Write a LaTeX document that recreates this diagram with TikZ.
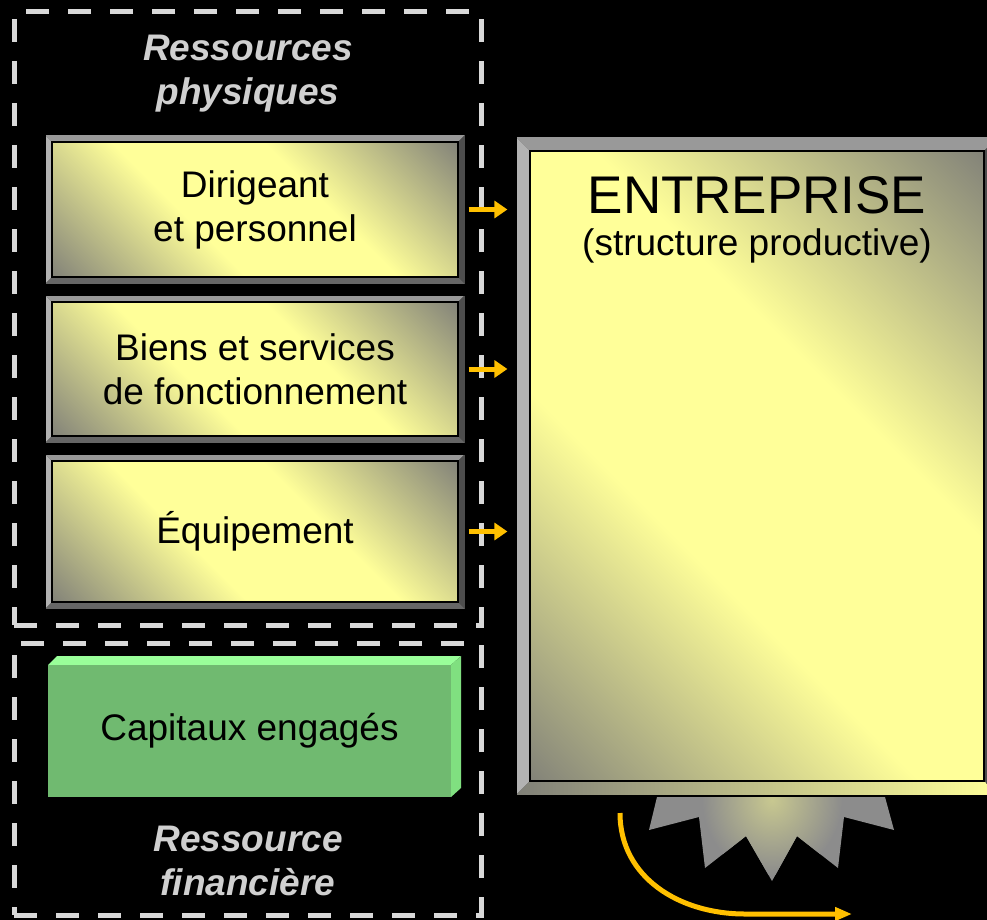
\documentclass[tikz,border=0pt]{standalone}
\usepackage{fontspec}
\setmainfont{Liberation Sans}
\usetikzlibrary{arrows.meta,calc}
\definecolor{yl}{HTML}{FFFF99}
\definecolor{gr}{HTML}{808078}
\definecolor{dashgray}{HTML}{D9D9D9}
\definecolor{lblc}{HTML}{D0D0D0}
\definecolor{gold}{HTML}{FFC000}
\definecolor{bvtopc}{HTML}{999999}
\definecolor{bvleftc}{HTML}{B2B2B2}
\definecolor{bvrightc}{HTML}{4D4D4D}
\definecolor{bvbotc}{HTML}{666666}
\definecolor{gfront}{HTML}{70BA70}
\definecolor{gtop}{HTML}{99FF99}
\definecolor{gside}{HTML}{80E080}
\definecolor{stargray}{HTML}{8C8C8C}
\definecolor{staryel}{HTML}{C8C890}
\pgfdeclarehorizontalshading{yb}{100bp}{color(0bp)=(gr); color(14bp)=(gr); color(40bp)=(yl); color(60bp)=(yl); color(86bp)=(gr); color(100bp)=(gr)}
\tikzset{
  face/.style={draw=black, line width=1.2pt, shading=yb, shading angle=45, inner sep=0pt,
    font=\fontsize{37}{44}\selectfont, align=center},
  framebox/.style={draw=dashgray, line width=5pt, dash pattern=on 23pt off 19pt, inner sep=0pt},
  arr/.style={draw=gold, line width=5pt, -{Triangle[length=13pt,width=17pt]}},
  lbl/.style={text=lblc, font=\fontsize{37}{44}\selectfont\bfseries\itshape, align=center},
  capbox/.style={fill=gfront, inner sep=0pt, font=\fontsize{37}{44}\selectfont},
}
\newcommand\bevelbox[8]{%
  \fill[bvtopc] (#2,#3) -- (#4,#3) -- ({#4-#6},{#3+#6}) -- ({#2+#6},{#3+#6}) -- cycle;
  \fill[bvleftc] (#2,#3) -- ({#2+#6},{#3+#6}) -- ({#2+#6},{#5-#6}) -- (#2,#5) -- cycle;
  \fill[bvrightc] (#4,#3) -- (#4,#5) -- ({#4-#6},{#5-#6}) -- ({#4-#6},{#3+#6}) -- cycle;
  \path[#7] (#2,#5) -- (#4,#5) -- ({#4-#6},{#5-#6}) -- ({#2+#6},{#5-#6}) -- cycle;
  \draw[black, line width=1pt] (#2,#3) rectangle (#4,#5);
  \node[face, minimum width={#4-#2-2*#6}, minimum height={#5-#3-2*#6}] (#1) at ({(#2+#4)/2},{(#3+#5)/2}) {#8};
}
\begin{document}
\begin{tikzpicture}[x=1pt, y=-1pt]
\useasboundingbox (0,0) rectangle (987,920);
\clip (0,0) rectangle (987,920);
\fill[black] (0,0) rectangle (987,920);

% dashed frames
\node[framebox, minimum width=467, minimum height=613] (phys) at (247.5,318.5) {};
\node[framebox, minimum width=467, minimum height=272] (fin) at (247.5,779) {};

% labels
\node[lbl] (lphys) at (248,74) {Ressources\\physiques};
\node[lbl] (lfin) at (248,861) {Ressource\\financière};

% resource boxes
\bevelbox{b1}{45}{135}{465}{284}{7}{fill=bvbotc}{Dirigeant\\et personnel}
\bevelbox{b2}{45}{295}{465}{443}{7}{fill=bvbotc}{Biens et services\\de fonctionnement}
\bevelbox{b3}{45}{454}{465}{609}{7}{fill=bvbotc}{Équipement}

% green box
\fill[gtop] (48,665) -- (57,656) -- (461,656) -- (451,665) -- cycle;
\fill[gside] (451,665) -- (461,656) -- (461,788) -- (451,797) -- cycle;
\node[capbox, minimum width=403, minimum height=132] (cap) at (249.5,731) {Capitaux engagés};

% starburst
\fill[stargray] (657,797) -- (649,830) -- (699,817) -- (705,868) -- (746,836) -- (772,881)
  -- (797,836) -- (838,868) -- (844,817) -- (894,830) -- (885,797) -- cycle;
\begin{scope}
\clip (657,797) -- (649,830) -- (699,817) -- (705,868) -- (746,836) -- (772,881)
  -- (797,836) -- (838,868) -- (844,817) -- (894,830) -- (885,797) -- cycle;
\shade[inner color=staryel, outer color=stargray] (772,800) ellipse (70 and 75);
\end{scope}

% entreprise
\bevelbox{ent}{516}{137}{998}{795}{14}{left color=gr, right color=yl}{}
\node[anchor=base, font=\fontsize{53}{60}\selectfont] (t1) at (757,213) {ENTREPRISE};
\node[anchor=base, font=\fontsize{37}{44}\selectfont] (t2) at (757,255) {(structure productive)};

% arrows
\draw[arr] ([xshift=10pt]b1.east) -- ([xshift=-22pt]b1.east -| ent.west);
\draw[arr] ([xshift=10pt]b2.east) -- ([xshift=-22pt]b2.east -| ent.west);
\draw[arr] ([xshift=10pt]b3.east) -- ([xshift=-22pt]b3.east -| ent.west);

\coordinate (cs) at (620,813);
\coordinate (ce) at (852,914);
\draw[draw=gold, line width=5pt, -{Triangle[length=17pt,width=13pt]}]
  (cs) .. controls (620,878) and (680,914) .. (745,914) -- (ce);
\end{tikzpicture}
\end{document}
